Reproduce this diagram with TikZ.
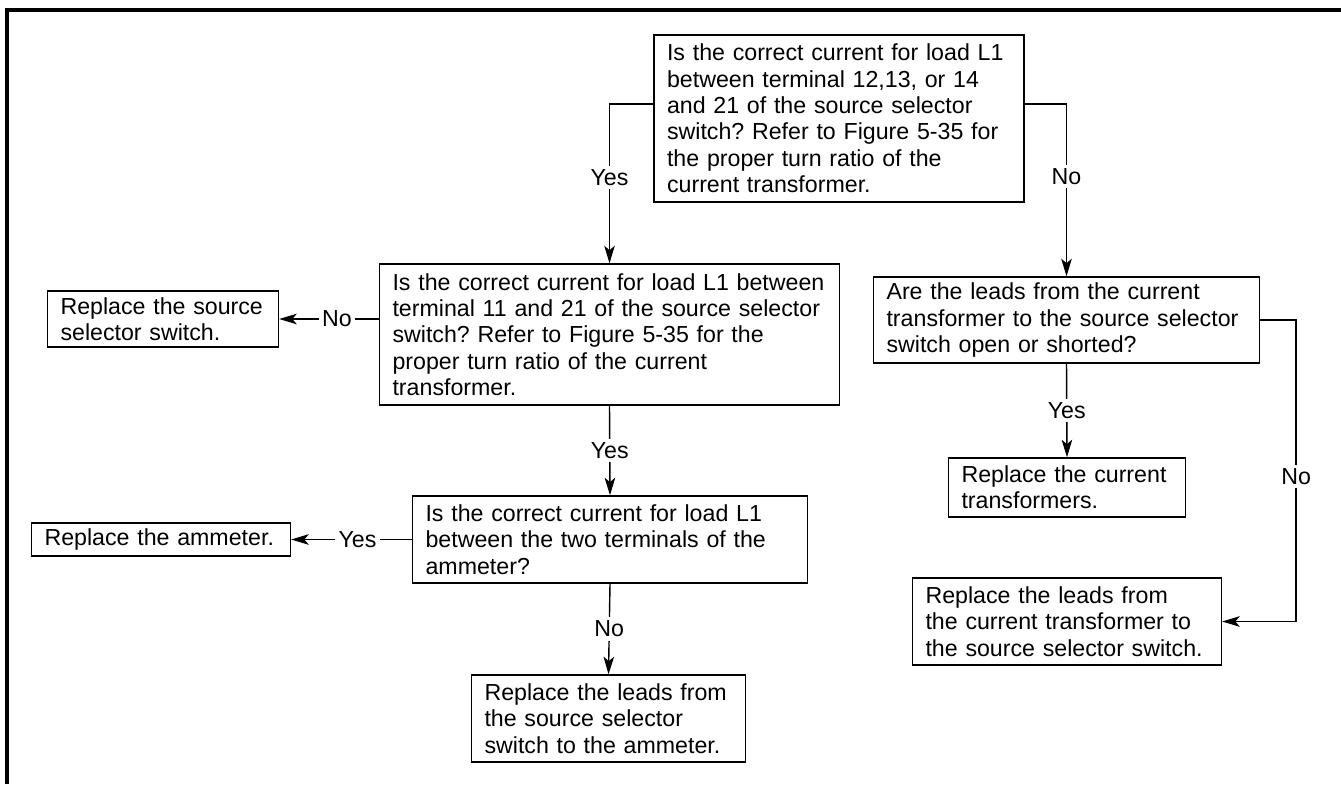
\documentclass[tikz,border=0pt]{standalone}
\usepackage{fontspec}
\setmainfont{Liberation Sans}
\usetikzlibrary{arrows.meta, positioning, calc}
\frenchspacing

\begin{document}
\begin{tikzpicture}[
  x=0.02cm, y=-0.02cm,
  box/.style={draw, line width=0.8pt, align=left, inner xsep=0.26cm, inner ysep=2pt,
    font=\fontsize{13.2}{15}\selectfont},
  arr/.style={-{Stealth[length=10pt, width=6pt, inset=2.5pt]}, line width=0.8pt},
  lbl/.style={fill=white, inner sep=2pt, font=\fontsize{13.2}{15}\selectfont},
]
  \useasboundingbox (0,0) rectangle (1341,784);
  % frame
  \draw[line width=2.2pt] (7,784) -- (7,10) -- (1341,10);

  % questions
  \node[box, text width=6.88cm, minimum height=3.34cm] (q1) at (839,118.5)
    {Is the correct current for load L1\\between terminal 12,13, or 14\\and 21 of the source selector\\switch? Refer to Figure 5-35 for\\the proper turn ratio of the\\current transformer.};
  \node[box, text width=8.68cm, minimum height=2.82cm] (q2) at (609.5,334.5)
    {Is the correct current for load L1 between\\terminal 11 and 21 of the source selector\\switch? Refer to Figure 5-35 for the\\proper turn ratio of the current\\transformer.};
  \node[box, text width=7.2cm, minimum height=1.72cm] (q3) at (1066.5,320)
    {Are the leads from the current\\transformer to the source selector\\switch open or shorted?};
  \node[box, text width=7.38cm, minimum height=1.74cm] (q4) at (610,539.5)
    {Is the correct current for load L1\\between the two terminals of the\\ammeter?};

  % actions
  \node[box, text width=4.1cm, minimum height=1.12cm] (rSel) at (163,319)
    {Replace the source\\selector switch.};
  \node[box, text width=4.66cm, minimum height=0.66cm] (rAmm) at (161,539.5)
    {Replace the ammeter.};
  \node[box, text width=4.96cm, minimum height=1.74cm] (rLeadsAmm) at (608.5,718.5)
    {Replace the leads from\\the source selector\\switch to the ammeter.};
  \node[box, text width=4.22cm, minimum height=1.18cm] (rCT) at (1067,487.5)
    {Replace the current\\transformers.};
  \node[box, text width=5.66cm, minimum height=1.74cm] (rLeadsCT) at (1067,621.5)
    {Replace the leads from\\the current transformer to\\the source selector switch.};

  % connectors
  \draw[arr] ([yshift=0.29cm]q1.west) -| (q2.north) node[lbl, pos=0.73] {Yes};
  \draw[arr] ([yshift=0.29cm]q1.east) -| (q3.north) node[lbl, pos=0.71] {No};
  \draw[arr] (q2.west |- rSel.east) -- (rSel.east) node[lbl, pos=0.42] {No};
  \draw[arr] (q2.south) -- (q4.north) node[lbl, midway] {Yes};
  \draw[arr] (q4.west) -- (rAmm.east) node[lbl, pos=0.45] {Yes};
  \draw[arr] (q4.south) -- (rLeadsAmm.north) node[lbl, midway] {No};
  \draw[arr] (q3.south) -- (rCT.north) node[lbl, midway] {Yes};
  \draw[arr] (q3.east) -- ++(36,0) |- (rLeadsCT.east) node[lbl, pos=0.26] {No};
\end{tikzpicture}
\end{document}
